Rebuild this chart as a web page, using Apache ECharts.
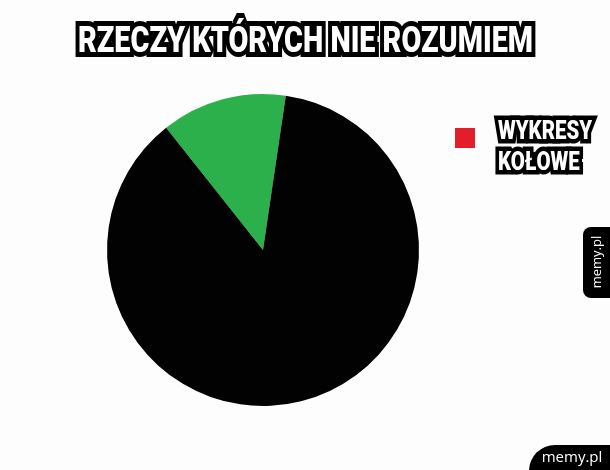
<!DOCTYPE html>
<html>
<head>
<meta charset="utf-8">
<script src="https://cdn.jsdelivr.net/npm/echarts@6/dist/echarts.min.js"></script>
<style>
html,body{margin:0;padding:0;background:#fdfdfd;}
#chart{width:610px;height:470px;}
</style>
</head>
<body>
<div id="chart"></div>
<script>
const titleText = 'RZECZY KTÓRYCH NIE ROZUMIEM';
const sliceNames = ['Zielony', 'Czarny', 'WYKRESY KOŁOWE'];
const sliceValues = [13, 87, 0];
const sliceColors = ['#2bb04b', '#020202', '#e31e2a'];
const legendNames = ['WYKRESY KOŁOWE'];
const watermark = 'memy.pl';

const TITLE_FONT = '900 36px Roboto, "Noto Sans", sans-serif';
const LEGEND_FONT = '900 25px Roboto, "Noto Sans", sans-serif';

function fitScale(text, font, targetWidth) {
  const ctx = document.createElement('canvas').getContext('2d');
  ctx.font = font;
  return targetWidth / ctx.measureText(text).width;
}

const legendLines = legendNames[0].split(' ');
const titleScale = fitScale(titleText, TITLE_FONT, 455);
const legendScale = fitScale(legendLines[0], LEGEND_FONT, 94);

const outlined = (text, font) => ({
  text: text,
  font: font,
  fill: '#ffffff',
  stroke: '#000000',
  lineWidth: 9,
  lineJoin: 'round',
  align: 'left',
  verticalAlign: 'middle',
  shadowBlur: 4,
  shadowColor: 'rgba(0,0,0,0.45)'
});

const chart = echarts.init(document.getElementById('chart'));
chart.setOption({
  backgroundColor: '#fdfdfd',
  animation: false,
  legend: {
    data: legendNames,
    left: 450,
    top: 123,
    orient: 'vertical',
    icon: 'rect',
    itemWidth: 20,
    itemHeight: 20,
    selectedMode: false,
    formatter: function () { return ''; },
    textStyle: { fontSize: 10 }
  },
  graphic: [
    {
      type: 'text',
      x: 305.5, y: 42.5,
      scaleX: titleScale,
      style: Object.assign(outlined(titleText, TITLE_FONT), { align: 'center', lineWidth: 10 })
    },
    {
      type: 'text',
      x: 498, y: 133,
      scaleX: legendScale,
      style: outlined(legendLines[0], LEGEND_FONT)
    },
    {
      type: 'text',
      x: 498, y: 164,
      scaleX: legendScale,
      style: outlined(legendLines[1], LEGEND_FONT)
    },
    {
      type: 'rect',
      shape: { x: 583, y: 227, width: 40, height: 71, r: 8 },
      style: { fill: '#000000' }
    },
    {
      type: 'text',
      x: 597, y: 262,
      rotation: Math.PI / 2,
      style: {
        text: watermark,
        fill: '#ffffff',
        font: '13px "Open Sans", sans-serif',
        align: 'center',
        verticalAlign: 'middle'
      }
    },
    {
      type: 'rect',
      shape: { x: 529, y: 445, width: 90, height: 35, r: [26, 0, 0, 0] },
      style: { fill: '#000000' }
    },
    {
      type: 'text',
      x: 572, y: 458,
      style: {
        text: watermark,
        fill: '#ffffff',
        font: '15px "Open Sans", sans-serif',
        align: 'center',
        verticalAlign: 'middle'
      }
    }
  ],
  series: [{
    type: 'pie',
    center: [263, 250],
    radius: [0, 156],
    startAngle: 128.4,
    clockwise: true,
    silent: true,
    label: { show: false },
    labelLine: { show: false },
    emphasis: { disabled: true },
    itemStyle: { borderWidth: 0 },
    data: sliceNames.map((n, i) => ({
      name: n,
      value: sliceValues[i],
      itemStyle: { color: sliceColors[i] }
    }))
  }]
});
</script>
</body>
</html>
